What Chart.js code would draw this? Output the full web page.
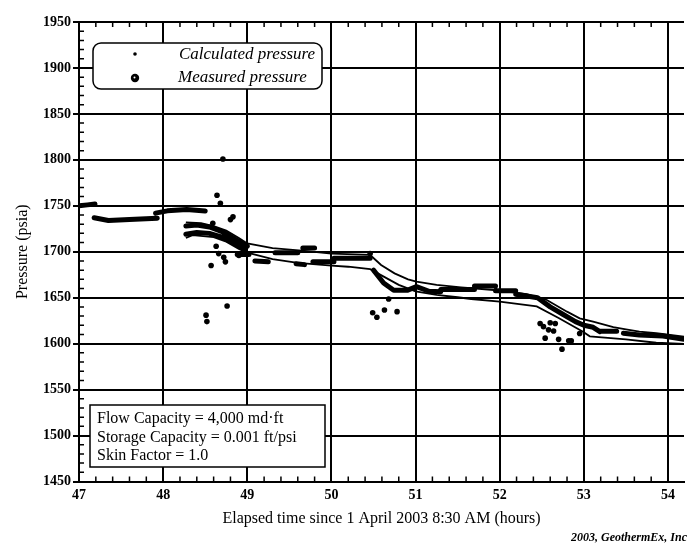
<!DOCTYPE html>
<html>
<head>
<meta charset="utf-8">
<script src="https://cdn.jsdelivr.net/npm/chart.js@4.4.1/dist/chart.umd.min.js"></script>
<style>
  html, body { margin: 0; padding: 0; background: #fff; overflow: hidden; }
</style>
</head>
<body>
<canvas id="myChart" width="688" height="547"></canvas>
<script>
// measured pressure, thick runs of readings (null starts a new run)
const measTime = [
  47.0, 47.1, 47.19, null,
  47.18, 47.35, 47.6, 47.93, null,
  47.91, 48.05, 48.28, 48.5, null,
  48.27, 48.4, 48.55, 48.7, 48.85, 49.0, null,
  48.27, 48.4, 48.55, 48.7, 48.85, 48.97, null,
  48.88, 49.02, null,
  49.09, 49.25, null,
  49.33, 49.6, null,
  49.66, 49.8, null,
  49.58, 49.68, null,
  49.78, 50.03, null,
  50.03, 50.46, null,
  50.5, 50.62, 50.74, 50.9, 51.01, 51.16, 51.3, null,
  51.3, 51.7, null,
  51.7, 51.95, null,
  51.95, 52.19, null,
  52.19, 52.45, 52.6, 52.75, 52.9, 53.0, 53.11, 53.19, null,
  53.19, 53.39, null,
  53.47, 53.66, 53.94, 54.19
];
const measPsia = [
  1750, 1751, 1752, null,
  1737, 1734, 1735, 1736.5, null,
  1742, 1744.5, 1746, 1744.3, null,
  1728, 1729, 1727, 1722, 1714, 1706, null,
  1719, 1721, 1720, 1716, 1709, 1702, null,
  1697, 1697, null,
  1690, 1689, null,
  1699, 1699, null,
  1704, 1704, null,
  1687, 1686, null,
  1689, 1689, null,
  1693, 1693, null,
  1680, 1666, 1658, 1658, 1662, 1657, 1656.5, null,
  1659, 1659, null,
  1662.7, 1662.7, null,
  1657.6, 1657.6, null,
  1653.7, 1650, 1640, 1632, 1624, 1620, 1617.8, 1613, null,
  1613.5, 1613.5, null,
  1611.3, 1609.4, 1608.3, 1604.7
];

// measured pressure, stray single readings
const spikeTime = [48.71, 48.64, 48.68, 48.59, 48.8, 48.83, 48.63, 48.66, 48.72, 48.74, 48.57, 48.9, 48.76, 48.51, 48.52,
  50.46, 50.68, 50.49, 50.54, 50.63, 50.78,
  52.48, 52.52, 52.6, 52.66, 52.58, 52.64, 52.54, 52.7, 52.74, 52.82, 52.85, 52.95];
const spikePsia = [1801, 1761.5, 1752.7, 1731, 1735, 1738, 1706, 1698, 1694, 1689, 1685, 1696, 1641, 1631, 1624,
  1698, 1648.6, 1633.7, 1628.7, 1636.6, 1634.8,
  1622, 1618.5, 1622.8, 1622, 1615, 1613.8, 1606, 1604.7, 1594, 1603.2, 1603, 1611];

// calculated pressure, upper and lower edge of the band
const calcHighTime = [48.27, 48.45, 48.6, 48.75, 48.9, 49.0, 49.3, 49.68, 50.0, 50.46, 50.59, 50.75, 50.91, 51.01, 51.25,
  51.54, 51.93, 52.32, 52.56, 52.8, 52.95, 53.11, 53.35, 53.5, 53.66, 53.86, 54.19];
const calcHighPsia = [1732, 1731, 1728, 1723, 1715, 1709, 1704, 1701, 1698, 1696.5, 1685.6, 1676.5, 1670, 1667.5, 1664,
  1661.3, 1658.4, 1654, 1647.5, 1634.8, 1627.6, 1624, 1618, 1615.6, 1613, 1611.3, 1607.6];
const calcLowTime = [48.27, 48.35, 48.6, 48.75, 48.9, 49.0, 49.3, 49.6, 50.0, 50.2, 50.46, 50.6, 50.8, 51.0, 51.25,
  51.5, 51.66, 52.0, 52.44, 52.7, 52.99, 53.07, 53.5, 53.86, 54.19];
const calcLowPsia = [1715, 1718, 1716, 1711, 1703, 1699, 1692, 1688, 1685, 1683.7, 1681, 1674, 1664, 1657, 1653,
  1650.5, 1648.6, 1645.7, 1640.5, 1628, 1613, 1608, 1604.7, 1601, 1599.6];

const xTicks = [47, 48, 49, 50, 51, 52, 53, 54];
const yTicks = [1450, 1500, 1550, 1600, 1650, 1700, 1750, 1800, 1850, 1900, 1950];
const legendLabels = ["Calculated pressure", "Measured pressure"];
const noteLines = ["Flow Capacity = 4,000 md\u00b7ft", "Storage Capacity = 0.001 ft/psi", "Skin Factor = 1.0"];
const footer = "2003, GeothermEx, Inc";

const serif = "'Liberation Serif', 'Times New Roman', serif";

function pts(xs, ys) {
  return xs.map((t, i) => ({ x: t === null ? xs[i - 1] : t, y: ys[i] }));
}

function box(ctx, x, y, w, h, r) {
  ctx.beginPath();
  ctx.moveTo(x + r, y);
  ctx.arcTo(x + w, y, x + w, y + h, r);
  ctx.arcTo(x + w, y + h, x, y + h, r);
  ctx.arcTo(x, y + h, x, y, r);
  ctx.arcTo(x, y, x + w, y, r);
  ctx.closePath();
  ctx.fillStyle = '#fff';
  ctx.fill();
  ctx.stroke();
}

const decor = {
  id: 'decor',
  afterDraw(chart) {
    const { ctx, chartArea: a, scales: { x, y } } = chart;
    ctx.save();
    ctx.strokeStyle = '#000';
    ctx.lineWidth = 1.5;
    // minor ticks, pointing inward
    ctx.beginPath();
    for (let v = 472; v <= 542; v += 2) {
      if (v % 10 === 0) continue;
      const px = x.getPixelForValue(v / 10);
      if (px > a.right) break;
      ctx.moveTo(px, a.bottom); ctx.lineTo(px, a.bottom - 5);
      ctx.moveTo(px, a.top); ctx.lineTo(px, a.top + 5);
    }
    for (let v = 1460; v < 1950; v += 10) {
      if (v % 50 === 0) continue;
      const py = y.getPixelForValue(v);
      ctx.moveTo(a.left, py); ctx.lineTo(a.left + 5, py);
    }
    ctx.stroke();

    // legend
    box(ctx, 93, 43, 229, 46, 8);
    ctx.fillStyle = '#000';
    ctx.beginPath(); ctx.arc(135, 54, 1.8, 0, Math.PI * 2); ctx.fill();
    ctx.beginPath(); ctx.arc(135, 78, 4.2, 0, Math.PI * 2); ctx.fill();
    ctx.fillStyle = '#fff';
    ctx.beginPath(); ctx.arc(134.5, 77.5, 1, 0, Math.PI * 2); ctx.fill();
    ctx.fillStyle = '#000';
    ctx.font = 'italic 17px ' + serif;
    ctx.textAlign = 'left';
    ctx.textBaseline = 'middle';
    ctx.fillText(legendLabels[0], 179, 55);
    ctx.fillText(legendLabels[1], 178, 78);

    // model parameters
    box(ctx, 90, 405, 235, 62, 0);
    ctx.fillStyle = '#000';
    ctx.font = '16px ' + serif;
    noteLines.forEach((s, i) => ctx.fillText(s, 97, 419 + i * 18.3));

    ctx.font = 'italic bold 12px ' + serif;
    ctx.textAlign = 'right';
    ctx.fillText(footer, 687, 538);
    ctx.restore();
  }
};

new Chart(document.getElementById('myChart'), {
  type: 'line',
  data: {
    datasets: [
      {
        label: 'Calculated pressure (upper)',
        data: pts(calcHighTime, calcHighPsia),
        borderColor: '#000', borderWidth: 1.8, pointRadius: 0, tension: 0
      },
      {
        label: 'Calculated pressure (lower)',
        data: pts(calcLowTime, calcLowPsia),
        borderColor: '#000', borderWidth: 1.8, pointRadius: 0, tension: 0
      },
      {
        label: 'Measured pressure',
        data: pts(measTime, measPsia),
        borderColor: '#000', borderWidth: 5, pointRadius: 0, tension: 0,
        spanGaps: false, borderCapStyle: 'round', borderJoinStyle: 'round'
      },
      {
        label: 'Measured pressure (stray)',
        data: pts(spikeTime, spikePsia),
        showLine: false, pointRadius: 2.8, pointBackgroundColor: '#000',
        pointBorderWidth: 0, borderColor: '#000'
      }
    ]
  },
  options: {
    responsive: false,
    animation: false,
    layout: { padding: { top: 22, right: 0, bottom: 19, left: 0 } },
    plugins: { legend: { display: false }, tooltip: { enabled: false } },
    scales: {
      x: {
        type: 'linear',
        min: 47,
        max: 54.19,
        afterBuildTicks: axis => { axis.ticks = xTicks.map(v => ({ value: v })); },
        afterFit: axis => { axis.height = 46.5; },
        grid: { color: '#000', lineWidth: 2, drawTicks: false },
        border: { color: '#000', width: 2 },
        ticks: { color: '#000', padding: 5, callback: v => String(v), font: { family: serif, size: 14, weight: 'bold' } },
        title: {
          display: true,
          text: 'Elapsed time since 1 April 2003 8:30 AM (hours)',
          color: '#000',
          padding: { top: 0, bottom: 0 },
          font: { family: serif, size: 16 }
        }
      },
      y: {
        min: 1450,
        max: 1950,
        afterBuildTicks: axis => { axis.ticks = yTicks.map(v => ({ value: v })); },
        afterFit: axis => { axis.width = 79; },
        grid: { color: '#000', lineWidth: 2, drawTicks: true, tickLength: 6 },
        border: { color: '#000', width: 2 },
        ticks: { color: '#000', padding: 2, callback: v => String(v), font: { family: serif, size: 14, weight: 'bold' } },
        title: {
          display: true,
          text: 'Pressure (psia)',
          color: '#000',
          padding: { top: 13, bottom: 0 },
          font: { family: serif, size: 16 }
        }
      }
    }
  },
  plugins: [decor]
});
</script>
</body>
</html>
